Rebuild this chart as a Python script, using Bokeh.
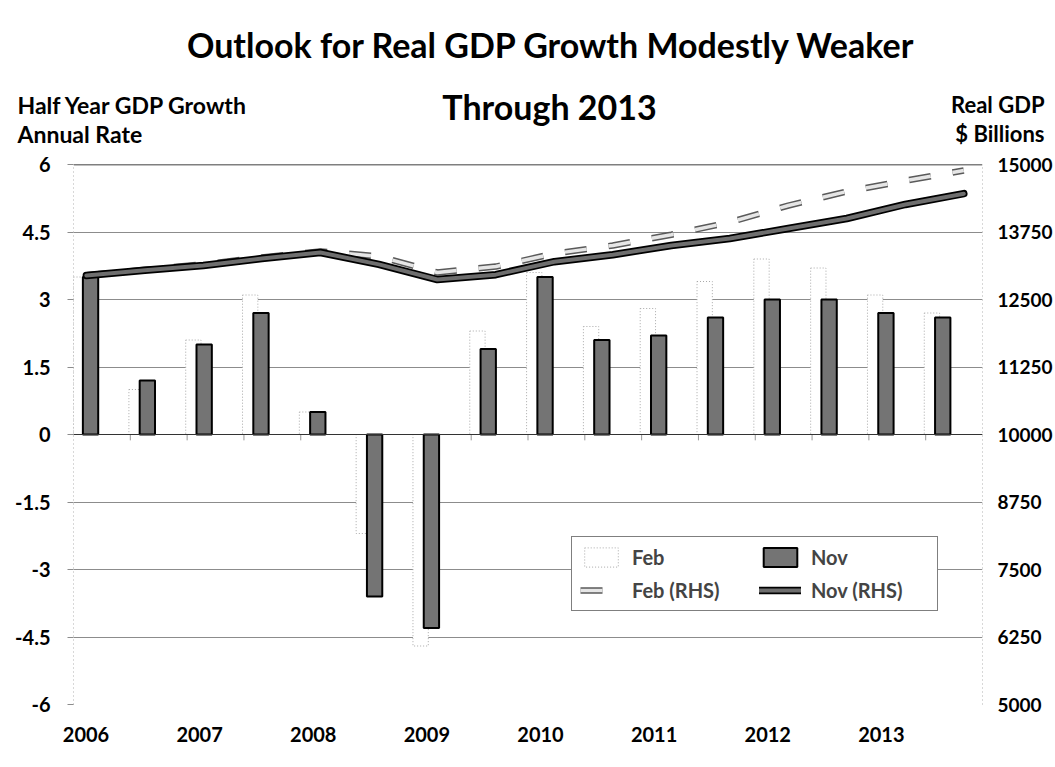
import numpy as np
from bokeh.plotting import figure
from bokeh.models import (Range1d, LinearAxis, FixedTicker, Legend,
                          LegendItem, Span)
from bokeh.core.properties import value
from bokeh.embed import file_html
from bokeh.resources import INLINE

# ---------------- data ----------------
periods = ["2006 H1", "2006 H2", "2007 H1", "2007 H2", "2008 H1", "2008 H2",
           "2009 H1", "2009 H2", "2010 H1", "2010 H2", "2011 H1", "2011 H2",
           "2012 H1", "2012 H2", "2013 H1", "2013 H2"]
year_labels = ["2006", "2007", "2008", "2009", "2010", "2011", "2012", "2013"]

# half-year GDP growth, annual rate (left axis)
feb_growth = [3.5, 1.0, 2.1, 3.1, 0.5, -2.2, -4.7, 2.3,
              3.6, 2.4, 2.8, 3.4, 3.9, 3.7, 3.1, 2.7]
nov_growth = [3.5, 1.2, 2.0, 2.7, 0.5, -3.6, -4.3, 1.9,
              3.5, 2.1, 2.2, 2.6, 3.0, 3.0, 2.7, 2.6]

# real GDP, $ billions (right axis)
feb_gdp = [12950, 13050, 13150, 13280, 13390, 13300, 13000, 13110,
           13350, 13500, 13700, 13930, 14240, 14500, 14700, 14890]
nov_gdp = [12945, 13040, 13130, 13260, 13370, 13150, 12870, 12960,
           13200, 13330, 13500, 13630, 13815, 14000, 14260, 14460]

left_ticks = [-6, -4.5, -3, -1.5, 0, 1.5, 3, 4.5, 6]
left_tick_labels = ["-6", "-4.5", "-3", "-1.5", "0", "1.5", "3", "4.5", "6"]
right_ticks = [5000, 6250, 7500, 8750, 10000, 11250, 12500, 13750, 15000]

title_lines = ["Outlook for Real GDP Growth Modestly Weaker", "Through 2013"]
left_axis_title = ["Half Year GDP Growth", "Annual Rate"]
right_axis_title = ["Real GDP", "$ Billions"]

FONT = "Lato"
W = 1055
HEAD_H = 150
n = len(periods)
idx = np.arange(n)

# ---------------- header (titles) ----------------
head = figure(width=W, height=HEAD_H, output_backend="svg", toolbar_location=None,
              x_range=Range1d(0, W), y_range=Range1d(HEAD_H, 0),
              x_axis_location=None, y_axis_location=None,
              min_border=0, min_border_left=0, min_border_right=0,
              min_border_top=0, min_border_bottom=0)
head.grid.visible = False
head.outline_line_color = None
head.background_fill_color = "white"
head.border_fill_color = "white"

head.text(x=[551, 549], y=[44, 106], text=title_lines,
          text_font=value(FONT), text_font_style="bold", text_font_size="34px",
          text_align="center", text_baseline="middle", text_color="black")
head.text(x=[17, 17], y=[104, 133], text=left_axis_title,
          text_font=value(FONT), text_font_style="bold", text_font_size="23px",
          text_align="left", text_baseline="middle", text_color="black")
head.text(x=[1044, 1044], y=[104, 133], text=right_axis_title,
          text_font=value(FONT), text_font_style="bold", text_font_size="22px",
          text_align="right", text_baseline="middle", text_color="black")

# ---------------- main chart ----------------
p = figure(width=W, height=611, output_backend="svg", toolbar_location=None,
           x_range=Range1d(0, n), y_range=Range1d(-6, 6),
           min_border_left=73, min_border_right=73,
           min_border_top=14, min_border_bottom=57)
p.outline_line_color = None
p.background_fill_color = "white"
p.border_fill_color = "white"

p.extra_y_ranges = {"gdp": Range1d(5000, 15000)}
p.extra_x_ranges = {"lines": Range1d(-0.22, 15.32)}

p.yaxis.ticker = FixedTicker(ticks=left_ticks)
p.yaxis.major_label_overrides = {t: l for t, l in zip(left_ticks, left_tick_labels)}
p.yaxis.major_tick_out = 6
p.yaxis.major_tick_in = 0
p.yaxis.minor_tick_line_color = None
p.yaxis.major_tick_line_color = "#8c8c8c"
p.yaxis.axis_line_color = "#b0b0b0"
p.yaxis.axis_line_dash = "1 3"
p.yaxis.major_label_standoff = 17
p.yaxis.major_label_text_font = FONT
p.yaxis.major_label_text_font_style = "bold"
p.yaxis.major_label_text_font_size = "20px"
p.yaxis.major_label_text_color = "black"

raxis = LinearAxis(y_range_name="gdp", ticker=FixedTicker(ticks=right_ticks))
raxis.major_label_overrides = {t: str(t) for t in right_ticks}
raxis.major_tick_out = 0
raxis.major_tick_in = 0
raxis.minor_tick_line_color = None
raxis.axis_line_color = "#b0b0b0"
raxis.axis_line_dash = "1 3"
raxis.major_label_standoff = 15
raxis.major_label_text_font = FONT
raxis.major_label_text_font_style = "bold"
raxis.major_label_text_font_size = "19px"
raxis.major_label_text_color = "black"
p.add_layout(raxis, "right")

year_ticks = [2 * i + 0.22 for i in range(len(year_labels))]
p.xaxis.ticker = FixedTicker(ticks=year_ticks)
p.xaxis.major_label_overrides = {t: l for t, l in zip(year_ticks, year_labels)}
p.xaxis.axis_line_color = None
p.xaxis.major_tick_line_color = None
p.xaxis.minor_tick_line_color = None
p.xaxis.major_label_standoff = 16
p.xaxis.major_label_text_font = FONT
p.xaxis.major_label_text_font_style = "bold"
p.xaxis.major_label_text_font_size = "20px"
p.xaxis.major_label_text_color = "black"

p.xgrid.grid_line_color = None
p.ygrid.ticker = FixedTicker(ticks=left_ticks)
p.ygrid.grid_line_color = "#8c8c8c"
p.ygrid.grid_line_width = 1

p.add_layout(Span(location=6, dimension="width", line_color="black", line_width=1.5))
p.add_layout(Span(location=0, dimension="width", line_color="#333333", line_width=1.2))

# category tick marks hanging from the zero line
p.segment(x0=idx[1:], x1=idx[1:], y0=0, y1=-0.13, line_color="#999999", line_width=1)

# bars
bar_w = 0.27
r_feb = p.vbar(x=idx + 0.11, top=feb_growth, bottom=0, width=bar_w,
               fill_color="white", line_color="#a8a8a8", line_width=1,
               line_dash="1 2")
r_nov = p.vbar(x=idx + 0.30, top=nov_growth, bottom=0, width=bar_w,
               fill_color="#747474", line_color="black", line_width=2)

# lines (RHS)
r_feb_o = p.line(idx, feb_gdp, x_range_name="lines", y_range_name="gdp",
                 line_color="#5a5a5a", line_width=6.5, line_dash="22 22")
r_feb_i = p.line(idx, feb_gdp, x_range_name="lines", y_range_name="gdp",
                 line_color="#e6e6e6", line_width=3.5, line_dash="22 22")
r_nov_o = p.line(idx, nov_gdp, x_range_name="lines", y_range_name="gdp",
                 line_color="black", line_width=7.5, line_cap="round",
                 line_join="round")
r_nov_i = p.line(idx, nov_gdp, x_range_name="lines", y_range_name="gdp",
                 line_color="#6e6e6e", line_width=4, line_cap="round",
                 line_join="round")

# legend (frame is 73..982 x 166..706 on the page)
legend = Legend(items=[
    LegendItem(label="Feb", renderers=[r_feb]),
    LegendItem(label="Feb (RHS)", renderers=[r_feb_o, r_feb_i]),
    LegendItem(label="Nov", renderers=[r_nov]),
    LegendItem(label="Nov (RHS)", renderers=[r_nov_o, r_nov_i]),
], ncols=2, location=(571 - 73, 706 - 613))
legend.border_line_color = "black"
legend.border_line_width = 1
legend.background_fill_color = "white"
legend.background_fill_alpha = 1
legend.label_text_font = FONT
legend.label_text_font_style = "bold"
legend.label_text_font_size = "20px"
legend.glyph_width = 42
legend.glyph_height = 24
legend.label_height = 24
legend.label_standoff = 10
legend.label_width = 118
legend.padding = 8
legend.spacing = 9
legend.margin = 0
p.add_layout(legend, "center")

open("out.html", "w").write(file_html([head, p], INLINE))
